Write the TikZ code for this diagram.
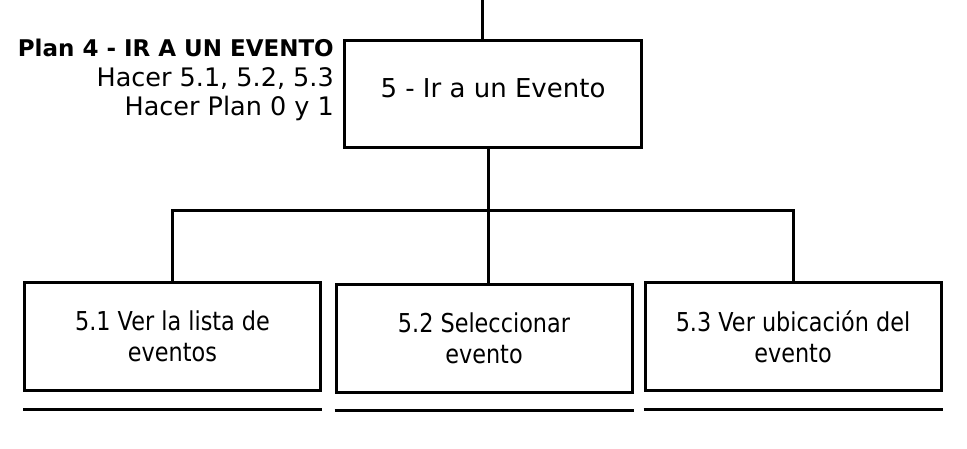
\documentclass[tikz,border=0pt]{standalone}
\usepackage{fontspec}
\setmainfont{DejaVu Sans}
\newfontfamily\boxfont[FakeStretch=0.86]{DejaVu Sans}
\usepackage{tikz}
\usetikzlibrary{positioning}
\tikzstyle{mainbox} = [rectangle, minimum width=297pt, minimum height=107pt, text centered, text depth=11pt, draw=black, line width=3pt, font=\fontsize{26}{31}\selectfont]
\tikzstyle{subbox} = [rectangle, minimum width=296pt, minimum height=108pt, align=center, draw=black, line width=3pt, font=\boxfont\fontsize{26}{31}\selectfont]
\tikzstyle{plantext} = [align=right, inner sep=0pt, font=\fontsize{25.5}{29.5}\selectfont]
\tikzstyle{line} = [line width=3pt]

\begin{document}
\begin{tikzpicture}[x=1pt, y=1pt, node distance=244pt]
\useasboundingbox (0,0) rectangle (967,448);

% Main task
\node (n5) [mainbox] at (493,354) {5 - Ir a un Evento};

% Sub-tasks
\node (n52) [subbox, below of=n5, xshift=-9pt] {5.2 Seleccionar\\evento};
\node (n51) [subbox, left of=n52, node distance=311.5pt, yshift=1.5pt] {5.1 Ver la lista de\\eventos};
\node (n53) [subbox, right of=n52, node distance=309pt, yshift=1.5pt] {5.3 Ver ubicación del\\evento};

% Plan
\node (plan) [plantext, anchor=north east] at ([xshift=-9pt]n5.north west) {{\bfseries\fontsize{23}{29.5}\selectfont Plan 4 - IR A UN EVENTO}\\Hacer 5.1, 5.2, 5.3\\Hacer Plan 0 y 1};

% Connectors
\coordinate (top) at (482,448);
\coordinate (fork) at (488,238);
\draw [line] (top) -- (top |- n5.north);
\draw [line] (n5.south -| fork) -- (fork);
\draw [line] (fork) -- (fork -| n51.north) -- (n51.north);
\draw [line] (fork) -- (fork -| n53.north) -- (n53.north);
\draw [line] (fork) -- (fork |- n52.north);

% Underlines
\foreach \n in {n51,n52,n53}
  \draw [line] ([yshift=-17pt]\n.south west) -- ([yshift=-17pt]\n.south east);

\end{tikzpicture}
\end{document}
